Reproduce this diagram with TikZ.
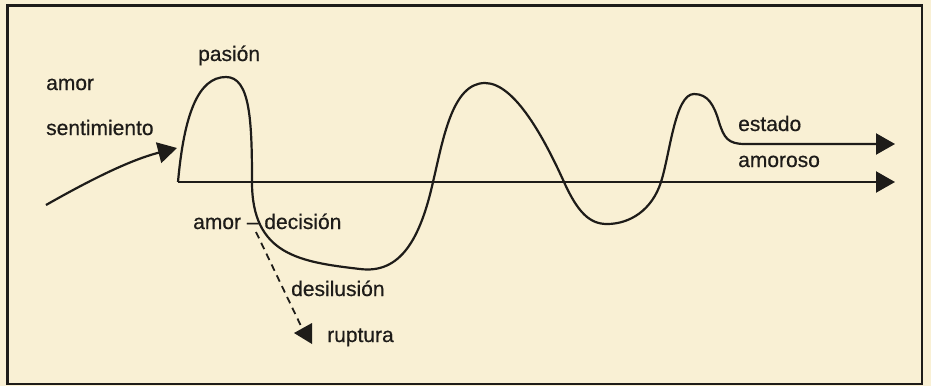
\documentclass[tikz,border=0pt]{standalone}
\usepackage{fontspec}
\setmainfont{Liberation Sans}
\newfontfamily\lblfont[FakeBold=0.5]{Liberation Sans}
\usetikzlibrary{arrows.meta}
\definecolor{paper}{RGB}{249,240,212}
\definecolor{ink}{RGB}{30,28,25}
\begin{document}
\begin{tikzpicture}[x=1pt,y=-1pt,
  lbl/.style={anchor=base west, inner sep=0pt, font=\lblfont\fontsize{21}{25}\selectfont, text=ink},
  wave/.style={line width=2.2pt, draw=ink, line join=round},
  bigtip/.style={-{Triangle[length=19pt,width=21pt]}},
  dashline/.style={draw=ink, line width=1.8pt, dash pattern=on 7pt off 5pt},
]
\fill[paper] (0,0) rectangle (931,386);
\useasboundingbox (0,0) rectangle (931,386);
\draw[ink, line width=2.5pt] (7.5,5.5) rectangle (922,384);

\coordinate (o) at (178,182);
\coordinate (xend) at (895,182);
\coordinate (top) at (745,144);
\coordinate (topend) at (895,144);
\coordinate (split) at (256,232);
\coordinate (rup) at (301,326);
\coordinate (inA) at (46,205);
\coordinate (inB) at (177,148);

% axis
\draw[wave, bigtip] (o) -- (xend);
% love curve
\draw[wave, bigtip] (o) .. controls (184,115) and (198,77) .. (226,77)
  .. controls (250,77) and (252,120) .. (252,182)
  .. controls (252,255) and (300,262) .. (360,269)
  .. controls (400,274) and (420,240) .. (433,182)
  .. controls (443,140) and (452,83) .. (485,83)
  .. controls (515,83) and (545,140) .. (564,182)
  .. controls (578,213) and (590,224) .. (607,224)
  .. controls (630,224) and (652,210) .. (661,182)
  .. controls (670,154) and (675,94) .. (694,94)
  .. controls (708,94) and (714,105) .. (719,122)
  .. controls (724,138) and (728,144) .. (top)
  -- (topend);
% incoming arrow
\draw[wave, -{Triangle[length=19pt,width=21pt]}] (inA) .. controls (90,180) and (130,160) .. (inB);
% rupture
\draw[dashline] (split) -- (rup);
\fill[ink] (294,333) -- (312,323) -- (312,344) -- cycle;

\node[lbl] (amor) at (46,90) {amor};
\node[lbl] (sent) at (46,135) {sentimiento};
\node[lbl] (pasion) at (198,61) {pasión};
\node[lbl] (decision) at (193,229) {amor – decisión};
\node[lbl] (desil) at (291,296) {desilusión};
\node[lbl] (ruptura) at (327,342) {ruptura};
\node[lbl] (estado) at (738,131) {estado};
\node[lbl] (amoroso) at (738,167) {amoroso};
\end{tikzpicture}
\end{document}
